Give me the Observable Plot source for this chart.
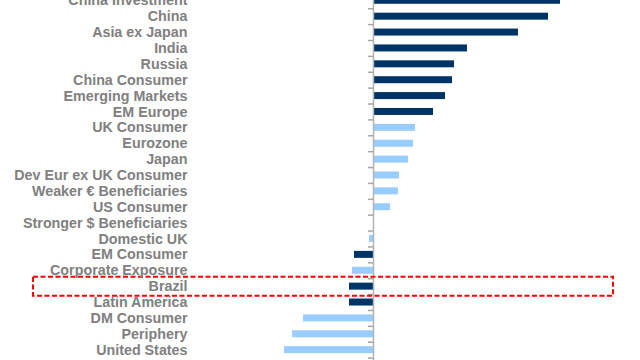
<!DOCTYPE html>
<html><head><meta charset="utf-8">
<script src="https://cdn.jsdelivr.net/npm/d3@7"></script>
<script src="https://cdn.jsdelivr.net/npm/@observablehq/plot@0.6"></script>
<style>
body{margin:0;background:#fff;}
#chart{width:640px;height:360px;overflow:hidden;}
#chart svg{display:block;}
</style>
</head><body><div id="chart"></div>
<script>
const categories = [
  "China Investment","China","Asia ex Japan","India","Russia","China Consumer",
  "Emerging Markets","EM Europe","UK Consumer","Eurozone","Japan",
  "Dev Eur ex UK Consumer","Weaker € Beneficiaries","US Consumer",
  "Stronger $ Beneficiaries","Domestic UK","EM Consumer","Corporate Exposure",
  "Brazil","Latin America","DM Consumer","Periphery","United States","Commodity"
];
const values = [
  18.7, 17.5, 14.5, 9.4, 8.1, 7.9,
  7.2, 6.0, 4.2, 4.0, 3.5,
  2.6, 2.5, 1.7,
  0.1, -0.4, -1.9, -2.1,
  -2.4, -2.4, -7.0, -8.1, -8.9, -10.0
];
const groups = [
  "Emerging","Emerging","Emerging","Emerging","Emerging","Emerging",
  "Emerging","Emerging","Developed","Developed","Developed",
  "Developed","Developed","Developed",
  "Developed","Developed","Emerging","Developed",
  "Emerging","Emerging","Developed","Developed","Developed","Developed"
];
const highlighted = ["Brazil"];
const xDomain = [-10, 25];

const data = categories.map((c, i) => ({category: c, value: values[i], group: groups[i]}));

const step = 15.88;
const yTop = 0.3 - step / 2;
const yRange = [yTop, yTop + step * categories.length];

const chart = Plot.plot({
  width: 640,
  height: 360,
  marginLeft: 273,
  marginRight: 17,
  marginTop: 0,
  marginBottom: 0,
  style: {fontFamily: "'Liberation Sans', Arial, sans-serif", fontWeight: "bold", background: "#fff"},
  x: {domain: xDomain, axis: null},
  y: {domain: categories, range: yRange, round: false, paddingInner: 0.56, paddingOuter: 0.28},
  color: {domain: ["Emerging", "Developed"], range: ["#003366", "#99ccff"]},
  marks: [
    Plot.barX(data, {x: "value", y: "category", fill: "group"}),
    Plot.ruleX([0], {stroke: "#b3b3b3", strokeWidth: 1.5}),
    Plot.ruleY(categories, {y: d => d, x1: 0, x2: 0, insetLeft: -5, dy: step / 2, stroke: "#a6a6a6", strokeWidth: 1.5}),
    Plot.barX(highlighted, {
      y: d => d, x1: xDomain[0], x2: xDomain[1],
      insetLeft: -240, insetRight: 10, insetTop: -6, insetBottom: -6,
      fill: "none", stroke: "#ff0000", strokeWidth: 2, strokeDasharray: "5,2.5"
    }),
    Plot.axisY({anchor: "left", tickSize: 0, tickPadding: 86, fontSize: 14.3, fill: "#808080", label: null})
  ]
});
document.getElementById("chart").appendChild(chart);
</script>
</body></html>
